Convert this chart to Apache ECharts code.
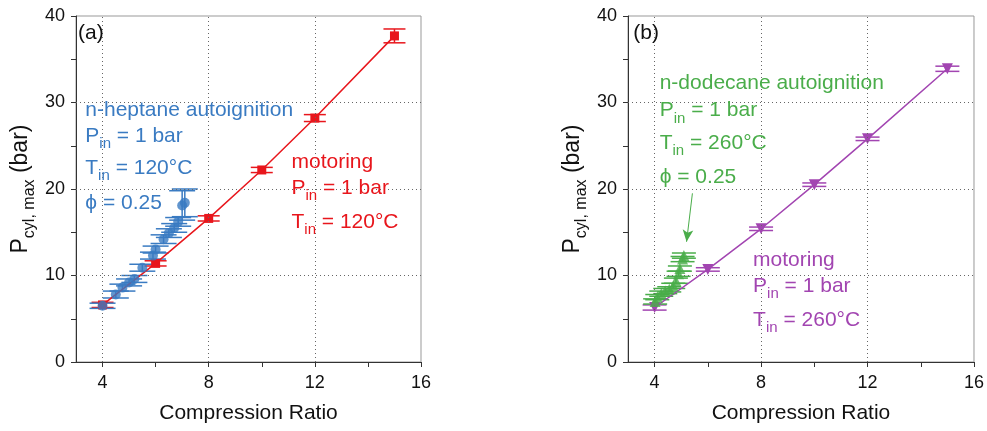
<!DOCTYPE html>
<html>
<head>
<meta charset="utf-8">
<script src="https://cdn.jsdelivr.net/npm/echarts@6/dist/echarts.min.js"></script>
<style>
  html, body { margin: 0; padding: 0; background: #fff; }
  #chart { width: 987px; height: 431px; }
</style>
</head>
<body>
<div id="chart"></div>
<script>
// (a) n-heptane, Tin = 120°C
var motorA_cr  = [4, 6, 8, 10, 12, 15];
var motorA_p   = [6.6, 11.4, 16.6, 22.2, 28.2, 37.7];
var motorA_err = [0.3, 0.3, 0.3, 0.3, 0.4, 0.8];

var heptane_cr  = [4.0, 4.5, 4.75, 5.0, 5.2, 5.5, 5.9, 6.0, 6.3, 6.5, 6.7, 6.85, 7.0, 7.1];
var heptane_p   = [6.5, 7.8, 8.6, 9.2, 9.6, 10.9, 12.3, 13.0, 14.2, 14.9, 15.5, 16.2, 18.1, 18.4];
var heptane_err = [0.3, 0.4, 0.4, 0.4, 0.4, 0.4, 0.4, 0.4, 0.5, 0.5, 0.5, 0.5, 1.7, 1.6];

// (b) n-dodecane, Tin = 260°C
var motorB_cr  = [4, 6, 8, 10, 12, 15];
var motorB_p   = [6.3, 10.7, 15.4, 20.5, 25.8, 33.9];
var motorB_err = [0.3, 0.2, 0.2, 0.2, 0.2, 0.3];

var dodecane_cr  = [4.02, 4.1, 4.25, 4.4, 4.55, 4.7, 4.8, 4.9, 4.95, 5.05, 5.1];
var dodecane_p   = [7.0, 7.5, 7.9, 8.2, 8.4, 8.8, 9.4, 10.2, 10.8, 11.9, 12.3];
var dodecane_err = [0.3, 0.3, 0.3, 0.3, 0.3, 0.3, 0.3, 0.3, 0.3, 0.3, 0.3];

var xLabels = [4, 8, 12, 16];
var xTicks  = [4, 6, 8, 10, 12, 14, 16];
var gridX   = [4, 8, 12];
var gridY   = [10, 20, 30];

var RED = '#e8161c', BLUE = '#3a7bc2', GREEN = '#4aad4a', PURPLE = '#a245b1';
var FONT = 'Liberation Sans, Arial, sans-serif';

function zip(a, b, c) {
    var out = [];
    for (var i = 0; i < a.length; i++) out.push(c ? [a[i], b[i], c[i]] : [a[i], b[i]]);
    return out;
}

// 误差棒
function errSeries(idx, cr, p, err, color, cap) {
    return {
        type: 'custom',
        xAxisIndex: idx, yAxisIndex: idx,
        z: 3,
        silent: true,
        data: zip(cr, p, err),
        renderItem: function (params, api) {
            var x = api.value(0), y = api.value(1), e = api.value(2);
            var t = api.coord([x, y + e]);
            var b = api.coord([x, y - e]);
            var st = { stroke: color, lineWidth: 1.5 };
            return {
                type: 'group',
                children: [
                    { type: 'line', shape: { x1: t[0], y1: t[1], x2: b[0], y2: b[1] }, style: st },
                    { type: 'line', shape: { x1: t[0] - cap, y1: t[1], x2: t[0] + cap, y2: t[1] }, style: st },
                    { type: 'line', shape: { x1: b[0] - cap, y1: b[1], x2: b[0] + cap, y2: b[1] }, style: st }
                ]
            };
        }
    };
}

function gridLines(idx) {
    var d = [];
    gridX.forEach(function (v) { d.push({ xAxis: v }); });
    gridY.forEach(function (v) { d.push({ yAxis: v }); });
    return {
        type: 'line', xAxisIndex: idx, yAxisIndex: idx, data: [], z: 1, silent: true,
        markLine: {
            silent: true, symbol: 'none', label: { show: false },
            lineStyle: { color: '#666', type: [1, 3], width: 1 },
            data: d
        }
    };
}

function xAxisOpt(idx) {
    return {
        gridIndex: idx, type: 'value', min: 3, max: 16,
        name: 'Compression Ratio', nameLocation: 'middle', nameGap: 41,
        nameTextStyle: { fontSize: 21, color: '#111', fontFamily: FONT },
        axisLine: { lineStyle: { color: '#333', width: 1 } },
        axisTick: { customValues: xTicks, length: 5, inside: false, lineStyle: { color: '#333' } },
        axisLabel: { customValues: xLabels, fontSize: 18, color: '#111', margin: 12, fontFamily: FONT },
        splitLine: { show: false }
    };
}

function yAxisOpt(idx) {
    return {
        gridIndex: idx, type: 'value', min: 0, max: 40, interval: 10,
        name: '{b|P}{s|cyl, max}{b| (bar)}', nameLocation: 'middle', nameGap: 38,
        nameTextStyle: {
            fontFamily: FONT, color: '#111',
            rich: {
                b: { fontSize: 23, fontFamily: FONT, color: '#111', padding: [0, 0, 6, 0], verticalAlign: 'bottom' },
                s: { fontSize: 16, fontFamily: FONT, color: '#111', verticalAlign: 'bottom' }
            }
        },
        axisLine: { show: true, lineStyle: { color: '#333', width: 1 } },
        axisTick: { length: 5, lineStyle: { color: '#333' } },
        minorTick: { show: true, splitNumber: 2, length: 5, lineStyle: { color: '#333' } },
        axisLabel: { fontSize: 18, color: '#111', margin: 11, fontFamily: FONT },
        splitLine: { show: false }
    };
}

var chart = echarts.init(document.getElementById('chart'));

chart.setOption({
    animation: false,
    backgroundColor: '#fff',
    grid: [
        { left: 76, top: 16, width: 345, height: 346, show: true, borderColor: '#999', borderWidth: 1 },
        { left: 628, top: 16, width: 346, height: 346, show: true, borderColor: '#999', borderWidth: 1 }
    ],
    xAxis: [xAxisOpt(0), xAxisOpt(1)],
    yAxis: [yAxisOpt(0), yAxisOpt(1)],
    series: [
        gridLines(0),
        gridLines(1),
        // (a)
        {
            type: 'line', xAxisIndex: 0, yAxisIndex: 0, z: 4,
            data: zip(motorA_cr, motorA_p),
            symbol: 'rect', symbolSize: 9,
            itemStyle: { color: RED }, lineStyle: { color: RED, width: 1.5 }
        },
        errSeries(0, motorA_cr, motorA_p, motorA_err, RED, 11),
        {
            type: 'scatter', xAxisIndex: 0, yAxisIndex: 0, z: 5,
            data: zip(heptane_cr, heptane_p),
            symbol: 'circle', symbolSize: 10,
            itemStyle: { color: BLUE }
        },
        errSeries(0, heptane_cr, heptane_p, heptane_err, BLUE, 13),
        // (b)
        {
            type: 'line', xAxisIndex: 1, yAxisIndex: 1, z: 4,
            data: zip(motorB_cr, motorB_p),
            symbol: 'triangle', symbolRotate: 180, symbolSize: 11,
            itemStyle: { color: PURPLE }, lineStyle: { color: PURPLE, width: 1.5 }
        },
        errSeries(1, motorB_cr, motorB_p, motorB_err, PURPLE, 12),
        {
            type: 'scatter', xAxisIndex: 1, yAxisIndex: 1, z: 5,
            data: zip(dodecane_cr, dodecane_p),
            symbol: 'triangle', symbolSize: 11,
            itemStyle: { color: GREEN },
            markLine: {
                silent: true, symbol: ['none', 'arrow'], symbolSize: [8, 12],
                label: { show: false },
                lineStyle: { color: GREEN, width: 1, type: 'solid' },
                data: [[{ coord: [5.42, 19.5] }, { coord: [5.2, 13.9] }]]
            }
        },
        errSeries(1, dodecane_cr, dodecane_p, dodecane_err, GREEN, 12)
    ]
});

// 注释文字
var notes = [
    { g: 0, x: 3.08, y: 38.0, text: '(a)', color: '#111' },
    { g: 0, x: 3.35, y: 29.1, text: 'n-heptane autoignition', color: BLUE },
    { g: 0, x: 3.35, y: 25.8, text: '{b|P}{s|in}{b| = 1 bar}', color: BLUE },
    { g: 0, x: 3.35, y: 22.1, text: '{b|T}{s|in}{b| = 120°C}', color: BLUE },
    { g: 0, x: 3.35, y: 18.4, text: 'ϕ = 0.25', color: BLUE },
    { g: 0, x: 11.12, y: 23.1, text: 'motoring', color: RED },
    { g: 0, x: 11.12, y: 19.8, text: '{b|P}{s|in}{b| = 1 bar}', color: RED },
    { g: 0, x: 11.12, y: 15.9, text: '{b|T}{s|in}{b| = 120°C}', color: RED },
    { g: 1, x: 3.2, y: 38.0, text: '(b)', color: '#111' },
    { g: 1, x: 4.19, y: 32.2, text: 'n-dodecane autoignition', color: GREEN },
    { g: 1, x: 4.19, y: 28.8, text: '{b|P}{s|in}{b| = 1 bar}', color: GREEN },
    { g: 1, x: 4.19, y: 25.0, text: '{b|T}{s|in}{b| = 260°C}', color: GREEN },
    { g: 1, x: 4.19, y: 21.4, text: 'ϕ = 0.25', color: GREEN },
    { g: 1, x: 7.7, y: 11.8, text: 'motoring', color: PURPLE },
    { g: 1, x: 7.7, y: 8.5, text: '{b|P}{s|in}{b| = 1 bar}', color: PURPLE },
    { g: 1, x: 7.7, y: 4.6, text: '{b|T}{s|in}{b| = 260°C}', color: PURPLE }
];

var elements = notes.map(function (n) {
    var pt = chart.convertToPixel({ xAxisIndex: n.g, yAxisIndex: n.g }, [n.x, n.y]);
    var rich = n.text.indexOf('{') === 0;
    return {
        type: 'text', x: pt[0], y: pt[1], z: 10, silent: true,
        style: {
            text: n.text,
            fill: n.color,
            fontSize: 21, fontFamily: FONT,
            verticalAlign: 'middle', align: 'left',
            rich: rich ? {
                b: { fontSize: 21, fontFamily: FONT, fill: n.color, padding: [0, 0, 5, 0], verticalAlign: 'bottom' },
                s: { fontSize: 15, fontFamily: FONT, fill: n.color, verticalAlign: 'bottom' }
            } : undefined
        }
    };
});
chart.setOption({ graphic: elements });
</script>
</body>
</html>
